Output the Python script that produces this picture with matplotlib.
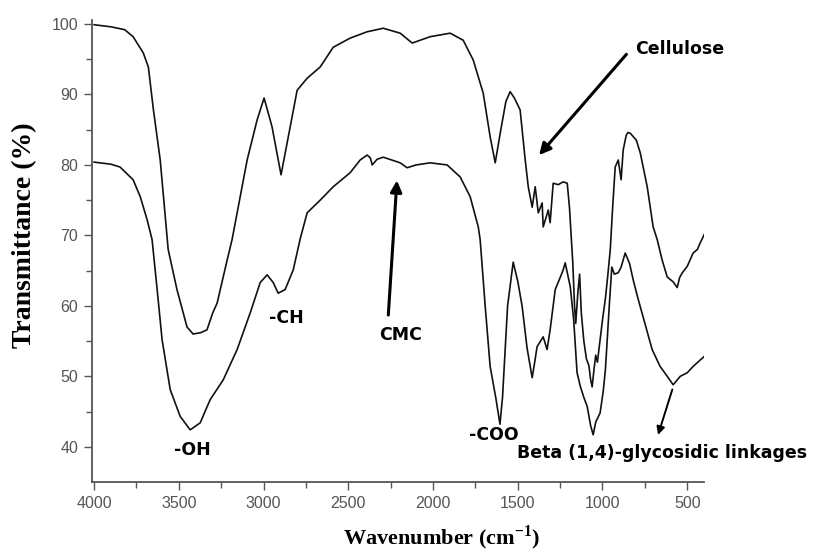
import matplotlib.pyplot as plt

# Espectros FTIR (numero de onda en cm-1, transmitancia en %)
wn_cel = [4000, 3900, 3820, 3770, 3710, 3680, 3650, 3610, 3563, 3511, 3452, 3416,
          3370, 3334, 3300, 3274, 3215, 3186, 3097, 3038, 2997, 2950, 2897, 2843,
          2802, 2743, 2666, 2589, 2489, 2389, 2294, 2194, 2123, 2017, 1899, 1822,
          1763, 1704, 1663, 1633, 1600, 1570, 1545, 1520, 1486, 1456, 1438, 1415,
          1397, 1379, 1356, 1350, 1320, 1309, 1291, 1261, 1232, 1208, 1195, 1185,
          1175, 1165, 1158, 1145, 1135, 1125, 1110, 1095, 1080, 1070, 1061, 1050,
          1040, 1030, 1015, 1000, 983, 970, 954, 940, 925, 907, 890, 878, 860, 850,
          836, 800, 777, 736, 701, 677, 648, 618, 583, 559, 545, 529, 500, 465,
          440, 424, 400]
t_cel = [99.9, 99.6, 99.2, 98.2, 95.9, 93.9, 87.8, 80.7, 68.0, 62.3, 57.0, 56.0,
         56.2, 56.6, 59.0, 60.4, 66.5, 69.4, 80.7, 86.4, 89.5, 85.4, 78.6, 85.4,
         90.6, 92.3, 93.9, 96.7, 98.0, 98.9, 99.4, 98.7, 97.3, 98.2, 98.7, 97.7,
         94.9, 90.2, 84.0, 80.3, 85.0, 89.0, 90.4, 89.5, 87.8, 80.7, 76.9, 74.0,
         76.9, 73.2, 74.6, 71.2, 73.6, 71.8, 77.4, 77.2, 77.6, 77.4, 74.0, 70.0,
         66.0, 60.0, 57.5, 62.0, 64.5, 59.0, 55.0, 52.5, 51.5, 49.5, 48.5, 51.0,
         53.0, 52.0, 55.0, 58.0, 61.0, 64.0, 68.0, 74.0, 79.7, 80.7, 77.9, 82.1,
         84.2, 84.6, 84.5, 83.5, 81.7, 76.9, 71.2, 69.4, 66.5, 64.1, 63.4, 62.6,
         64.0, 64.7, 65.6, 67.5, 68.0, 68.9, 70.1]

wn_cmc = [4000, 3900, 3847, 3770, 3728, 3687, 3658, 3628, 3599, 3551, 3492, 3433,
          3374, 3315, 3238, 3156, 3079, 3020, 2979, 2943, 2914, 2873, 2825, 2784,
          2743, 2666, 2589, 2489, 2430, 2389, 2370, 2359, 2330, 2294, 2194, 2153,
          2100, 2017, 1917, 1840, 1781, 1733, 1722, 1692, 1663, 1630, 1605, 1590,
          1560, 1527, 1500, 1474, 1445, 1415, 1400, 1386, 1350, 1327, 1309, 1279,
          1250, 1232, 1220, 1190, 1170, 1150, 1130, 1110, 1090, 1070, 1055, 1040,
          1014, 995, 983, 975, 960, 945, 930, 907, 890, 866, 840, 819, 790, 760,
          707, 660, 618, 583, 541, 500, 465, 424, 400]
t_cmc = [80.4, 80.1, 79.7, 77.9, 75.5, 72.2, 69.4, 62.3, 55.2, 48.1, 44.3, 42.4,
         43.4, 46.7, 49.5, 53.8, 59.0, 63.3, 64.4, 63.3, 61.8, 62.3, 65.1, 69.5,
         73.2, 75.0, 76.9, 78.9, 80.7, 81.4, 81.0, 80.0, 80.8, 81.1, 80.3, 79.6,
         80.0, 80.3, 80.0, 78.3, 75.5, 71.2, 69.4, 59.9, 51.4, 47.0, 43.2, 47.0,
         60.0, 66.2, 63.5, 59.9, 54.0, 49.8, 52.0, 54.2, 55.6, 53.8, 56.6, 62.3,
         64.0, 65.1, 66.1, 62.7, 58.0, 50.5, 48.5, 47.0, 45.7, 43.0, 41.7, 43.5,
         44.8, 48.0, 50.9, 54.0, 60.0, 65.5, 64.5, 64.7, 65.5, 67.5, 66.0, 63.7,
         61.0, 58.4, 53.8, 51.4, 50.0, 48.8, 50.0, 50.5, 51.4, 52.3, 52.8]

x_ticks = [4000, 3500, 3000, 2500, 2000, 1500, 1000, 500]
y_ticks = [40, 50, 60, 70, 80, 90, 100]

fig = plt.figure(figsize=(8.15, 5.54), dpi=100)
ax = fig.add_axes([0.113, 0.130, 0.751, 0.833])

ax.plot(wn_cel, t_cel, color='#111111', lw=1.2)
ax.plot(wn_cmc, t_cmc, color='#111111', lw=1.2)

ax.set_xlim(4012, 400)
ax.set_ylim(35, 100.5)
ax.set_xticks(x_ticks)
ax.set_yticks(y_ticks)
ax.set_xticks([3750, 3250, 2750, 2250, 1750, 1250, 750], minor=True)
ax.set_yticks([45, 55, 65, 75, 85, 95], minor=True)

for s in ['top', 'right']:
    ax.spines[s].set_visible(False)
for s in ['left', 'bottom']:
    ax.spines[s].set_color('#555555')
    ax.spines[s].set_linewidth(1.3)

ax.tick_params(which='major', direction='out', length=6, width=1, color='#555555',
               labelsize=11.5, labelcolor='#555555', pad=4)
ax.tick_params(which='minor', direction='out', length=4, width=1, color='#555555')
for lab in ax.get_xticklabels() + ax.get_yticklabels():
    lab.set_family('Liberation Sans')

# etiquetas de ejes
fig.text(442 / 815, 1 - 538 / 554, 'Wavenumber (cm$^{\\mathregular{-1}}$)',
         family='Liberation Serif', fontweight='bold', fontsize=16,
         ha='center', va='center')
fig.text(25 / 815, 1 - 235 / 554, 'Transmittance (%)', family='Liberation Serif',
         fontweight='bold', fontsize=20, rotation=90, ha='center', va='center')

txt = dict(family='DejaVu Sans', fontweight='bold', fontsize=12.5, color='black')
ax.text(3422, 39.6, '-OH', ha='center', va='center', **txt)
ax.text(2867, 58.3, '-CH', ha='center', va='center', **txt)
ax.text(2194, 55.9, 'CMC', ha='center', va='center', **txt)
ax.text(1639, 41.6, '-COO', ha='center', va='center', **txt)
ax.text(807, 96.4, 'Cellulose', ha='left', va='center', **txt)
ax.text(1503, 39.1, 'Beta (1,4)-glycosidic linkages', ha='left', va='center', **txt)

flecha = dict(arrowstyle='-|>', color='black', lw=2.2, mutation_scale=17)
ax.annotate('', xy=(1385, 81.1), xytext=(848, 96.0), arrowprops=flecha)
ax.annotate('', xy=(2212, 78.2), xytext=(2265, 58.3), arrowprops=flecha)
ax.annotate('', xy=(677, 41.3), xytext=(583, 48.5),
            arrowprops=dict(arrowstyle='-|>', color='black', lw=1.4, mutation_scale=12))

fig.savefig('out.png', dpi=100)
